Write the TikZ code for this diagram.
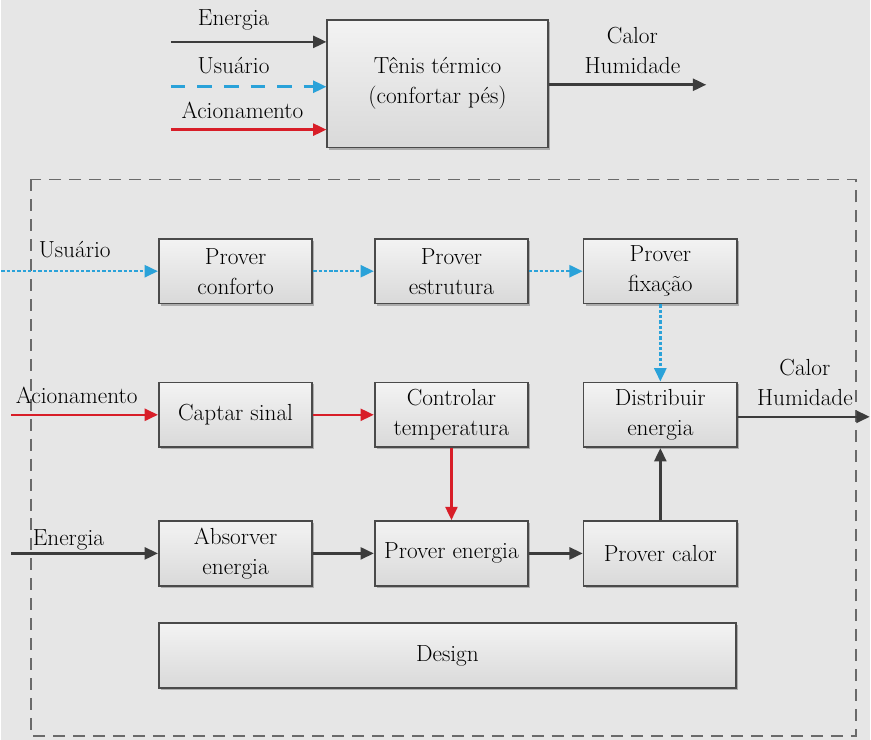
\documentclass[tikz,border=0pt]{standalone}
\usetikzlibrary{arrows.meta,shadows}
\definecolor{bgc}{HTML}{E6E6E6}
\definecolor{boxc}{HTML}{4A4A4A}
\definecolor{boxtop}{HTML}{F3F3F3}
\definecolor{boxbot}{HTML}{D9D9D9}
\definecolor{arrgray}{HTML}{3C3C3C}
\definecolor{arrred}{HTML}{D81E28}
\definecolor{arrblue}{HTML}{2AA2D9}
\definecolor{framec}{HTML}{6A6A6A}
\begin{document}
\begin{tikzpicture}[x=0.75pt,y=-0.75pt,
  font=\fontsize{17.5}{22.5}\selectfont,
  box/.style={draw=boxc, line width=1.3pt, top color=boxtop, bottom color=boxbot,
    align=center, inner sep=2pt,
    drop shadow={shadow xshift=1.5pt, shadow yshift=-1.5pt, fill=black, opacity=0.25}},
  fbox/.style={box, minimum width=115.5pt, minimum height=48.75pt},
  tip/.style={-{Triangle[length=10pt,width=9pt]}},
  garr/.style={tip, draw=arrgray, line width=1.9pt},
  rarr/.style={tip, draw=arrred, line width=1.9pt},
  barr/.style={tip, draw=arrblue, line width=1.9pt, dash pattern=on 2.5pt off 1.5pt},
  bdash/.style={tip, draw=arrblue, line width=1.9pt, dash pattern=on 11pt off 9pt},
  lbl/.style={inner sep=1pt, text=black}
]
\fill[bgc] (0,0) rectangle (871,742);

% ---------- top black box ----------
\node[box, minimum width=165.75pt, minimum height=96pt] (top) at (437.5,84)
  {Tênis térmico\\(confortar pés)};
\coordinate (tE) at (170,42);
\coordinate (tU) at (170,87);
\coordinate (tA) at (170,130);
\coordinate (tO) at (707,85);
\draw[garr] (tE) -- (tE -| top.west);
\draw[bdash] (tU) -- (tU -| top.west);
\draw[rarr] (tA) -- (tA -| top.west);
\draw[garr] (tO -| top.east) -- (tO);
\node[lbl] (ltE) at (233,20) {Energia};
\node[lbl] (ltU) at (233,66) {Usuário};
\node[lbl] (ltA) at (242,111) {Acionamento};
\node[lbl, align=center] (ltO) at (633,51) {Calor\\Humidade};

% ---------- frame ----------
\draw[framec, line width=1.3pt, dash pattern=on 9pt off 6pt] (30,180) rectangle (857,738);

% ---------- function boxes ----------
\node[fbox] (pc) at (235,272) {Prover\\conforto};
\node[fbox] (pe) at (451.5,272) {Prover\\estrutura};
\node[fbox] (pf) at (661,272) {Prover\\fixação};
\node[fbox] (cs) at (235,416) {Captar sinal};
\node[fbox] (ct) at (451.5,416) {Controlar\\temperatura};
\node[fbox] (de) at (661,416) {Distribuir\\energia};
\node[fbox] (ae) at (235,555) {Absorver\\energia};
\node[fbox] (pen) at (451.5,555) {Prover energia};
\node[fbox] (pcal) at (661,555) {Prover calor};
\node[box, minimum width=434.25pt, minimum height=48.75pt] (des) at (447.5,657.5) {Design};

% ---------- inputs ----------
\coordinate (iU) at (0,272);
\coordinate (iA) at (10,416);
\coordinate (iE) at (10,555);
\coordinate (oC) at (871,418);
\draw[barr] (iU) -- (pc.west);
\draw[rarr] (iA) -- (cs.west);
\draw[garr] (iE) -- (ae.west);
\node[lbl, anchor=west] (lU) at (36,250) {Usuário};
\node[lbl, anchor=west] (lA) at (13,397) {Acionamento};
\node[lbl, anchor=west] (lE) at (30,542) {Energia};

% ---------- internal flows ----------
\draw[barr] (pc) -- (pe);
\draw[barr] (pe) -- (pf);
\draw[barr] (pf) -- (de);
\draw[rarr] (cs) -- (ct);
\draw[rarr] (ct) -- (pen);
\draw[garr] (ae) -- (pen);
\draw[garr] (pen) -- (pcal);
\draw[garr] (pcal) -- (de);
\draw[garr] (oC -| de.east) -- (oC);
\node[lbl, align=center] (lO) at (806,384) {Calor\\Humidade};
\end{tikzpicture}
\end{document}
